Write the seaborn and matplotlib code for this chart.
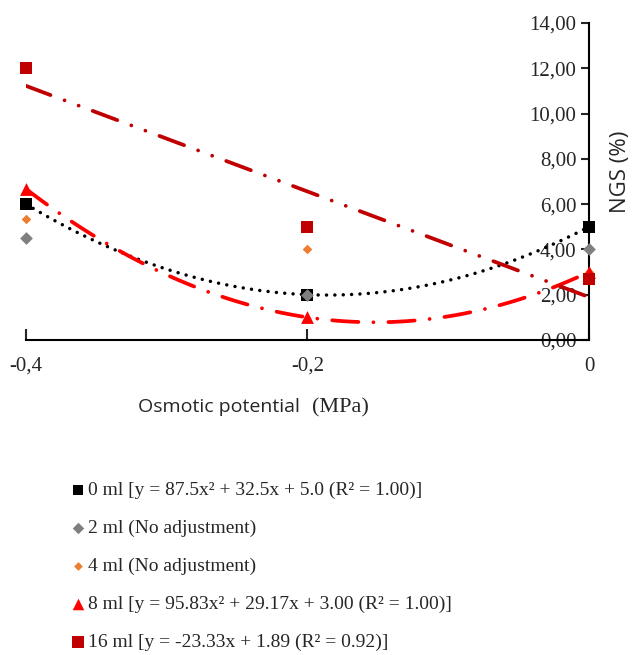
import matplotlib
matplotlib.use("Agg")
import matplotlib.pyplot as plt
import seaborn as sns
import pandas as pd

# values
potential = [-0.4, -0.2, 0.0]
ngs_0ml = [6.0, 2.0, 5.0]
ngs_2ml = [4.5, 2.0, 4.0]
ngs_4ml = [5.33, 4.0, 3.0]
ngs_8ml = [6.67, 1.0, 3.0]
ngs_16ml = [12.0, 5.0, 2.67]

labels = [
    "0 ml [y = 87.5x\u00b2 + 32.5x + 5.0 (R\u00b2 = 1.00)]",
    "2 ml (No adjustment)",
    "4 ml (No adjustment)",
    "8 ml [y = 95.83x\u00b2 + 29.17x + 3.00 (R\u00b2 = 1.00)]",
    "16 ml [y = -23.33x + 1.89 (R\u00b2 = 0.92)]",
]
yticks = [0, 2, 4, 6, 8, 10, 12, 14]
xticks = [-0.4, -0.2, 0.0]

df = pd.DataFrame({
    "x": potential * 5,
    "y": ngs_0ml + ngs_2ml + ngs_4ml + ngs_8ml + ngs_16ml,
    "dose": [d for d in ["0", "2", "4", "8", "16"] for _ in potential],
})

sns.set_style("white")
serif = "Liberation Serif"
sans = "Open Sans"

fig = plt.figure(figsize=(6.32, 6.55), dpi=100)
ax = fig.add_axes([0.041, 0.481, 0.891, 0.484])
# y axis drawn at x = 0 (right end); set before ticks, it resets them
ax.spines["left"].set_position(("data", 0))

styles = {
    "0": dict(color="#000000", marker="s", s=70),
    "2": dict(color="#7F7F7F", marker="D", s=42),
    "4": dict(color="#ED7D31", marker="D", s=24),
    "8": dict(color="#FF0000", marker="^", s=85),
    "16": dict(color="#C00000", marker="s", s=78),
}

# trendlines (fitted by seaborn)
sub = df[df.dose == "0"]
sns.regplot(data=sub, x="x", y="y", order=2, ci=None, scatter=False, ax=ax,
            line_kws=dict(color="black", lw=2.5, linestyle=(0, (0.01, 2.4)),
                          dash_capstyle="round", zorder=3))
sub = df[df.dose == "8"]
sns.regplot(data=sub, x="x", y="y", order=2, ci=None, scatter=False, ax=ax,
            line_kws=dict(color="#FF0000", lw=2.7, linestyle=(0, (7, 4, 0.01, 4)),
                          dash_capstyle="round", zorder=3))
sub = df[df.dose == "16"]
sns.regplot(data=sub, x="x", y="y", ci=None, scatter=False, ax=ax,
            line_kws=dict(color="#C00000", lw=2.7,
                          linestyle=(0, (7, 4, 0.01, 4, 0.01, 4)),
                          dash_capstyle="round", zorder=3))

for dose, lab in zip(["0", "2", "4", "8", "16"], labels):
    st = styles[dose]
    sub = df[df.dose == dose]
    sns.scatterplot(data=sub, x="x", y="y", color=st["color"], marker=st["marker"],
                    s=st["s"], linewidth=0, ax=ax, label=lab, clip_on=False, zorder=4)

ax.set_xlim(-0.4, 0.0)
ax.set_ylim(0, 14)
ax.set_xticks(xticks)
ax.set_xticklabels(["-0,4", "-0,2", "0"], fontfamily=serif, fontsize=15)
ax.set_yticks(yticks)
ax.set_yticklabels([f"{v},00" for v in yticks], fontfamily=serif, fontsize=15)
ax.set_xlabel("")
ax.set_ylabel("NGS (%)", fontfamily=sans, fontsize=16)
ax.yaxis.set_label_position("right")
ax.yaxis.set_label_coords(1.038, 0.53)

for side in ["top", "right"]:
    ax.spines[side].set_visible(False)
for side in ["left", "bottom"]:
    ax.spines[side].set_color("black")
    ax.spines[side].set_linewidth(1.5)
ax.tick_params(axis="y", direction="out", length=6, width=1.5, left=True, pad=3)
ax.tick_params(axis="x", direction="in", length=8, width=1.5, bottom=True, pad=12)

fig.text(0.475, 0.378, "Osmotic potential", fontfamily=sans, fontsize=14, ha="right", va="center")
fig.text(0.493, 0.378, "(MPa)", fontfamily=serif, fontsize=16, ha="left", va="center")

handles, labs = ax.get_legend_handles_labels()
leg = fig.legend(handles, labs, loc="upper left", bbox_to_anchor=(0.08, 0.292),
                 frameon=False, prop=dict(family=serif, size=14), handletextpad=0.0,
                 handlelength=1.0, labelspacing=1.05, markerscale=0.9)
ax.get_legend().remove()

fig.savefig("out.png", dpi=100)
